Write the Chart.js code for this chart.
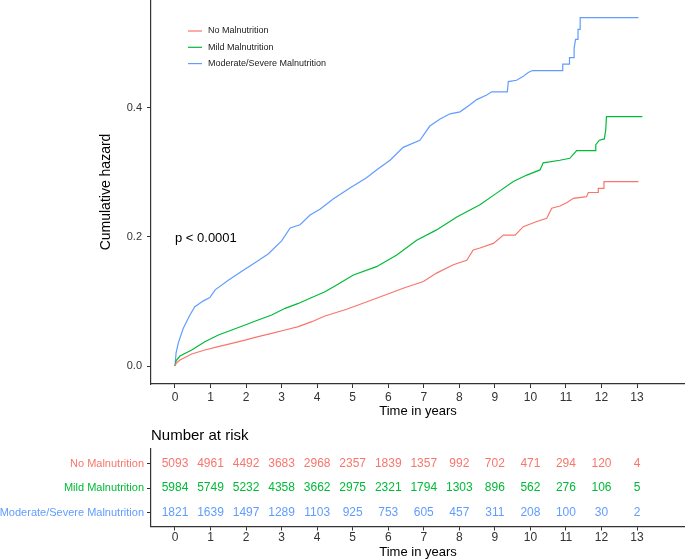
<!DOCTYPE html>
<html>
<head>
<meta charset="utf-8">
<script src="https://cdn.jsdelivr.net/npm/chart.js@4.4.1/dist/chart.umd.min.js"></script>
<style>
html,body{margin:0;padding:0;background:#fff;}
#wrap{position:relative;width:685px;height:560px;overflow:hidden;background:#fff;}
.box{position:absolute;left:0;width:685px;}
</style>
</head>
<body>
<div id="wrap">
  <div class="box" style="top:0;height:420px"><canvas id="c1" width="685" height="420"></canvas></div>
  <div class="box" style="top:420px;height:140px"><canvas id="c2" width="685" height="140"></canvas></div>
</div>
<script>
// ---------- data ----------
const groups = ["No Malnutrition", "Mild Malnutrition", "Moderate/Severe Malnutrition"];
const colors = ["#F8766D", "#00BA38", "#619CFF"];

const noMalTime = [0,0.03,0.14,0.47,0.84,1.22,1.6,1.97,2.34,2.72,3.1,3.47,3.85,4.22,4.83,5.67,6.42,6.99,7.36,7.83,8.21,8.39,8.58,8.96,9.24,9.57,9.8,10.18,10.46,10.6,10.83,11.02,11.21,11.58,11.63,11.91,11.91,12.07,12.07,13.04];
const noMalHazard = [0,0.004,0.0093,0.0186,0.0248,0.030,0.035,0.040,0.0455,0.0506,0.0558,0.061,0.0687,0.0775,0.088,0.105,0.1205,0.131,0.144,0.157,0.164,0.180,0.183,0.190,0.203,0.203,0.216,0.224,0.229,0.2445,0.248,0.253,0.26,0.2625,0.269,0.269,0.2755,0.2755,0.2857,0.2857];

const mildTime = [0,0.03,0.14,0.47,0.84,1.22,1.6,1.97,2.34,2.72,3.1,3.47,3.8,4.22,4.55,5.02,5.67,6.24,6.8,7.36,7.93,8.58,9.05,9.52,9.9,10.27,10.36,10.83,11.11,11.3,11.84,11.84,11.94,12.08,12.12,12.14,13.15];
const mildHazard = [0,0.008,0.0155,0.0248,0.0377,0.048,0.0558,0.0636,0.0713,0.079,0.0894,0.097,0.105,0.115,0.1256,0.141,0.154,0.172,0.195,0.211,0.231,0.25,0.268,0.286,0.296,0.304,0.315,0.319,0.322,0.334,0.334,0.343,0.350,0.352,0.366,0.3865,0.3865];

const modSevTime = [0,0.03,0.09,0.23,0.42,0.56,0.8,0.98,1.13,1.5,1.88,2.25,2.63,3.0,3.24,3.52,3.8,4.08,4.45,4.92,5.39,5.67,6.05,6.42,6.89,7.17,7.46,7.74,8.02,8.3,8.49,8.77,8.91,9.35,9.38,9.61,9.8,9.94,10.06,10.91,10.91,11.1,11.1,11.23,11.23,11.27,11.34,11.34,11.4,11.4,13.04];
const modSevHazard = [0,0.02,0.035,0.058,0.079,0.092,0.101,0.106,0.118,0.133,0.147,0.16,0.174,0.194,0.214,0.219,0.234,0.243,0.259,0.276,0.292,0.304,0.319,0.339,0.350,0.372,0.383,0.391,0.394,0.405,0.413,0.42,0.425,0.425,0.441,0.443,0.449,0.455,0.458,0.458,0.468,0.468,0.478,0.478,0.4925,0.5065,0.5065,0.522,0.522,0.540,0.540];

const riskTimes = [0,1,2,3,4,5,6,7,8,9,10,11,12,13];
const riskNoMal = [5093,4961,4492,3683,2968,2357,1839,1357,992,702,471,294,120,4];
const riskMild = [5984,5749,5232,4358,3662,2975,2321,1794,1303,896,562,276,106,5];
const riskModSev = [1821,1639,1497,1289,1103,925,753,605,457,311,208,100,30,2];

const xTickValues = [0,1,2,3,4,5,6,7,8,9,10,11,12,13];
const yTickValues = [0,0.2,0.4];
const pValueText = "p < 0.0001";
const pValuePos = {x: 0, y: 0.2};

// ---------- setup ----------
const FONT = "'Liberation Sans', Arial, Helvetica, sans-serif";
Chart.defaults.font.family = FONT;
Chart.defaults.color = '#333';

const times = [noMalTime, mildTime, modSevTime];
const hazards = [noMalHazard, mildHazard, modSevHazard];
const risks = [riskNoMal, riskMild, riskModSev];

const axisGrid = {display: true, drawOnChartArea: false, drawTicks: true, tickLength: 4, color: '#333', lineWidth: 1};
const axisBorder = {display: true, color: '#333', width: 1.2};
const X_MIN = -0.675, X_MAX = 14.35;

function fixY(width) {
  return s => { s.width = width; s.paddingTop = 0; s.paddingBottom = 0; };
}
function fixX(height) {
  return s => { s.height = height; s.paddingLeft = 0; s.paddingRight = 0; };
}

const legendPlugin = {
  id: 'kmLegend',
  afterDraw(chart) {
    const {ctx, chartArea} = chart;
    ctx.save();
    ctx.font = '9px ' + FONT;
    ctx.textBaseline = 'middle';
    ctx.textAlign = 'left';
    chart.data.datasets.forEach((ds, i) => {
      const y = chartArea.top + 31 + i * 16.3;
      const x0 = chartArea.left + 37;
      ctx.strokeStyle = ds.borderColor;
      ctx.lineWidth = 1.2;
      ctx.beginPath(); ctx.moveTo(x0, y); ctx.lineTo(x0 + 14, y); ctx.stroke();
      ctx.fillStyle = '#222';
      ctx.fillText(ds.label, x0 + 20, y);
    });
    ctx.restore();
  }
};

const pvalPlugin = {
  id: 'pval',
  afterDraw(chart) {
    const {ctx, scales} = chart;
    ctx.save();
    ctx.font = '13px ' + FONT;
    ctx.fillStyle = '#000';
    ctx.textAlign = 'left';
    ctx.textBaseline = 'middle';
    ctx.fillText(pValueText, scales.x.getPixelForValue(pValuePos.x), scales.y.getPixelForValue(pValuePos.y) + 1);
    ctx.restore();
  }
};

new Chart(document.getElementById('c1'), {
  type: 'line',
  data: {
    datasets: groups.map((g, i) => ({
      label: g,
      data: times[i].map((t, j) => ({x: t, y: hazards[i][j]})),
      borderColor: colors[i],
      backgroundColor: colors[i],
      borderWidth: 1.2,
      pointRadius: 0,
      fill: false,
      tension: 0
    }))
  },
  options: {
    responsive: false,
    animation: false,
    events: [],
    layout: {padding: 0},
    plugins: {legend: {display: false}, tooltip: {enabled: false}},
    scales: {
      x: {
        type: 'linear', min: X_MIN, max: X_MAX,
        afterBuildTicks: s => { s.ticks = xTickValues.map(v => ({value: v})); },
        afterFit: fixX(36),
        grid: axisGrid, border: axisBorder,
        ticks: {font: {size: 12}, color: '#333', padding: 2, maxRotation: 0, autoSkip: false, callback: v => String(v)},
        title: {display: true, text: 'Time in years', font: {size: 13}, color: '#000', padding: {top: 0, bottom: 1}}
      },
      y: {
        type: 'linear', min: -0.0279, max: 0.5674,
        afterBuildTicks: s => { s.ticks = yTickValues.map(v => ({value: v})); },
        afterFit: fixY(151),
        grid: axisGrid, border: axisBorder,
        ticks: {font: {size: 11}, color: '#333', padding: 5, callback: v => Number(v).toFixed(1)},
        title: {display: true, text: 'Cumulative hazard', font: {size: 14}, color: '#000', padding: {top: 98, bottom: 0}}
      }
    }
  },
  plugins: [legendPlugin, pvalPlugin]
});

// ---------- risk table ----------
const tableTextPlugin = {
  id: 'riskText',
  afterDatasetsDraw(chart) {
    const {ctx, chartArea} = chart;
    ctx.save();
    ctx.font = '12px ' + FONT;
    ctx.textAlign = 'center';
    ctx.textBaseline = 'middle';
    chart.data.datasets.forEach((ds, i) => {
      const meta = chart.getDatasetMeta(i);
      ctx.fillStyle = colors[i];
      meta.data.forEach((pt, j) => {
        ctx.fillText(String(risks[i][j]), pt.x, pt.y);
      });
    });
    ctx.font = '15px ' + FONT;
    ctx.fillStyle = '#000';
    ctx.textAlign = 'left';
    ctx.fillText('Number at risk', chartArea.left, chartArea.top - 13);
    ctx.restore();
  }
};

new Chart(document.getElementById('c2'), {
  type: 'scatter',
  data: {
    datasets: groups.map((g, i) => ({
      label: g,
      data: riskTimes.map(t => ({x: t, y: i})),
      pointRadius: 0,
      showLine: false
    }))
  },
  options: {
    responsive: false,
    animation: false,
    events: [],
    layout: {padding: {top: 28.5, left: 0, right: 0, bottom: 0}},
    plugins: {legend: {display: false}, tooltip: {enabled: false}},
    scales: {
      x: {
        type: 'linear', min: X_MIN, max: X_MAX,
        afterBuildTicks: s => { s.ticks = xTickValues.map(v => ({value: v})); },
        afterFit: fixX(33.5),
        grid: axisGrid, border: axisBorder,
        ticks: {font: {size: 12}, color: '#333', padding: 0, maxRotation: 0, autoSkip: false, callback: v => String(v)},
        title: {display: true, text: 'Time in years', font: {size: 13}, color: '#000', padding: {top: 0, bottom: 0}}
      },
      y: {
        type: 'linear', min: -0.61, max: 2.556, reverse: true,
        afterBuildTicks: s => { s.ticks = groups.map((g, i) => ({value: i})); },
        afterFit: fixY(151),
        grid: axisGrid, border: axisBorder,
        ticks: {font: {size: 11}, padding: 3, color: ctx => colors[ctx.index], callback: v => groups[v]}
      }
    }
  },
  plugins: [tableTextPlugin]
});
</script>
</body>
</html>
